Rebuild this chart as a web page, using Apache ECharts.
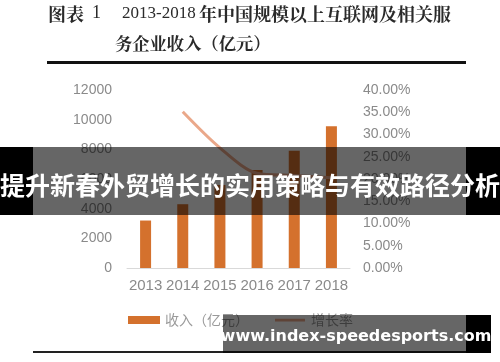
<!DOCTYPE html>
<html><head><meta charset="utf-8">
<script src="https://cdn.jsdelivr.net/npm/echarts@6/dist/echarts.min.js"></script>
<style>html,body{margin:0;padding:0;background:#fff}#c{width:500px;height:362px}</style>
</head><body><div id="c"></div>
<script>
const years = ['2013','2014','2015','2016','2017','2018'];
const revenue = [3200, 4300, 5600, 6600, 7900, 9560];
const growth = [null, 0.351, 0.27, 0.213, 0.208, 0.203];
const leftTicks = [0, 2000, 4000, 6000, 8000, 10000, 12000];
const rightTicks = [0, 0.05, 0.1, 0.15, 0.2, 0.25, 0.3, 0.35, 0.4];
const seriesNames = ['收入（亿元）', '增长率'];
const titleLine1a = '图表';
const titleLine1n = '1';
const titleLine1b = '2013-2018';
const titleLine1c = '年中国规模以上互联网及相关服';
const titleLine2 = '务企业收入（亿元）';
const bannerText = '提升新春外贸增长的实用策略与有效路径分析';
const watermark = 'www.index-speedesports.com';

const chart = echarts.init(document.getElementById('c'), null, {renderer: 'canvas'});
const labelColor = '#8a8a8a';
const serifCJK = '"Noto Serif CJK SC","Noto Sans CJK SC",serif';
chart.setOption({
  animation: false,
  backgroundColor: '#fff',
  grid: {left: 127, right: 150, top: 90, bottom: 94, containLabel: false},
  legend: {
    left: 123, top: 308, itemGap: 26, itemWidth: 32, itemHeight: 8,
    textStyle: {color: '#9a9a9a', fontSize: 14, fontFamily: 'Noto Sans CJK SC'},
    data: [
      {name: seriesNames[0], icon: 'rect'},
      {name: seriesNames[1], icon: 'path://M0,0L0.01,0L0,0.01ZM0,2.8L30,2.8L30,5.4L0,5.4ZM30,8L29.99,8L30,7.99Z'}
    ]
  },
  xAxis: {
    type: 'category', data: years,
    axisLine: {lineStyle: {color: '#d9d9d9', width: 1}},
    axisTick: {show: false},
    axisLabel: {color: labelColor, fontSize: 15, margin: 10, interval: 0, fontFamily: 'Liberation Sans'}
  },
  yAxis: [{
    type: 'value', min: leftTicks[0], max: leftTicks[leftTicks.length - 1], interval: 2000,
    splitLine: {show: false}, axisLine: {show: false}, axisTick: {show: false},
    axisLabel: {color: labelColor, fontSize: 14, margin: 15, fontFamily: 'Liberation Sans',
      formatter: v => String(v)}
  }, {
    type: 'value', min: rightTicks[0], max: rightTicks[rightTicks.length - 1], interval: 0.05,
    splitLine: {show: false}, axisLine: {show: false}, axisTick: {show: false},
    axisLabel: {color: labelColor, fontSize: 14, margin: 13, fontFamily: 'Liberation Sans',
      formatter: v => (v * 100).toFixed(2) + '%'}
  }],
  series: [{
    name: seriesNames[0], type: 'bar', data: revenue, barWidth: 11,
    itemStyle: {color: '#d4712d'}
  }, {
    name: seriesNames[1], type: 'line', yAxisIndex: 1, data: growth, smooth: 0.3,
    symbol: 'none', lineStyle: {color: '#eaa88a', width: 3}, itemStyle: {color: '#eaa88a'}
  }],
  graphic: [
    {type: 'text', left: 48, top: 5, z: 100, style: {text: titleLine1a, fontSize: 18, fontFamily: serifCJK, fill: '#2a2a2a', fontWeight: 'bold'}},
    {type: 'text', left: 92, top: 4, z: 100, style: {text: titleLine1n, fontSize: 18, fontFamily: 'Liberation Serif', fill: '#2a2a2a'}},
    {type: 'text', left: 122, top: 5, z: 100, style: {text: titleLine1b, fontSize: 17, fontFamily: 'Liberation Serif', fill: '#2a2a2a'}},
    {type: 'text', left: 199, top: 5, z: 100, style: {text: titleLine1c, fontSize: 18, fontFamily: serifCJK, fill: '#2a2a2a', fontWeight: 'bold'}},
    {type: 'text', left: 115, top: 35, z: 100, style: {text: titleLine2, fontSize: 17.3, fontFamily: serifCJK, fill: '#2a2a2a', fontWeight: 'bold'}},
    {type: 'rect', shape: {x: 47, y: 61, width: 419, height: 3}, z: 100, style: {fill: '#111'}},
    {type: 'rect', shape: {x: 33, y: 351, width: 433, height: 2}, z: 100, style: {fill: '#222'}},
    {type: 'rect', shape: {x: 0, y: 147, width: 500, height: 68}, z: 200, style: {fill: 'rgba(0,0,0,0.6)'}},
    {type: 'rect', shape: {x: 0, y: 147, width: 33, height: 68}, z: 201, style: {fill: '#000'}},
    {type: 'rect', shape: {x: 466, y: 147, width: 34, height: 68}, z: 201, style: {fill: '#000'}},
    {type: 'text', x: 250, y: 185, z: 210, style: {text: bannerText, fontSize: 25, fontWeight: 'bold', fontFamily: 'Noto Sans CJK SC', fill: '#fff', align: 'center', verticalAlign: 'middle'}},
    {type: 'rect', shape: {x: 223, y: 315, width: 243, height: 38}, z: 200, style: {fill: 'rgba(0,0,0,0.6)'}},
    {type: 'rect', shape: {x: 466, y: 315, width: 25, height: 38}, z: 201, style: {fill: '#000'}},
    {type: 'text', x: 356, y: 337, z: 210, style: {text: watermark, fontSize: 16, fontWeight: 'bold', fontFamily: 'DejaVu Sans', fill: '#fff', align: 'center', verticalAlign: 'middle'}}
  ]
});
</script></body></html>
